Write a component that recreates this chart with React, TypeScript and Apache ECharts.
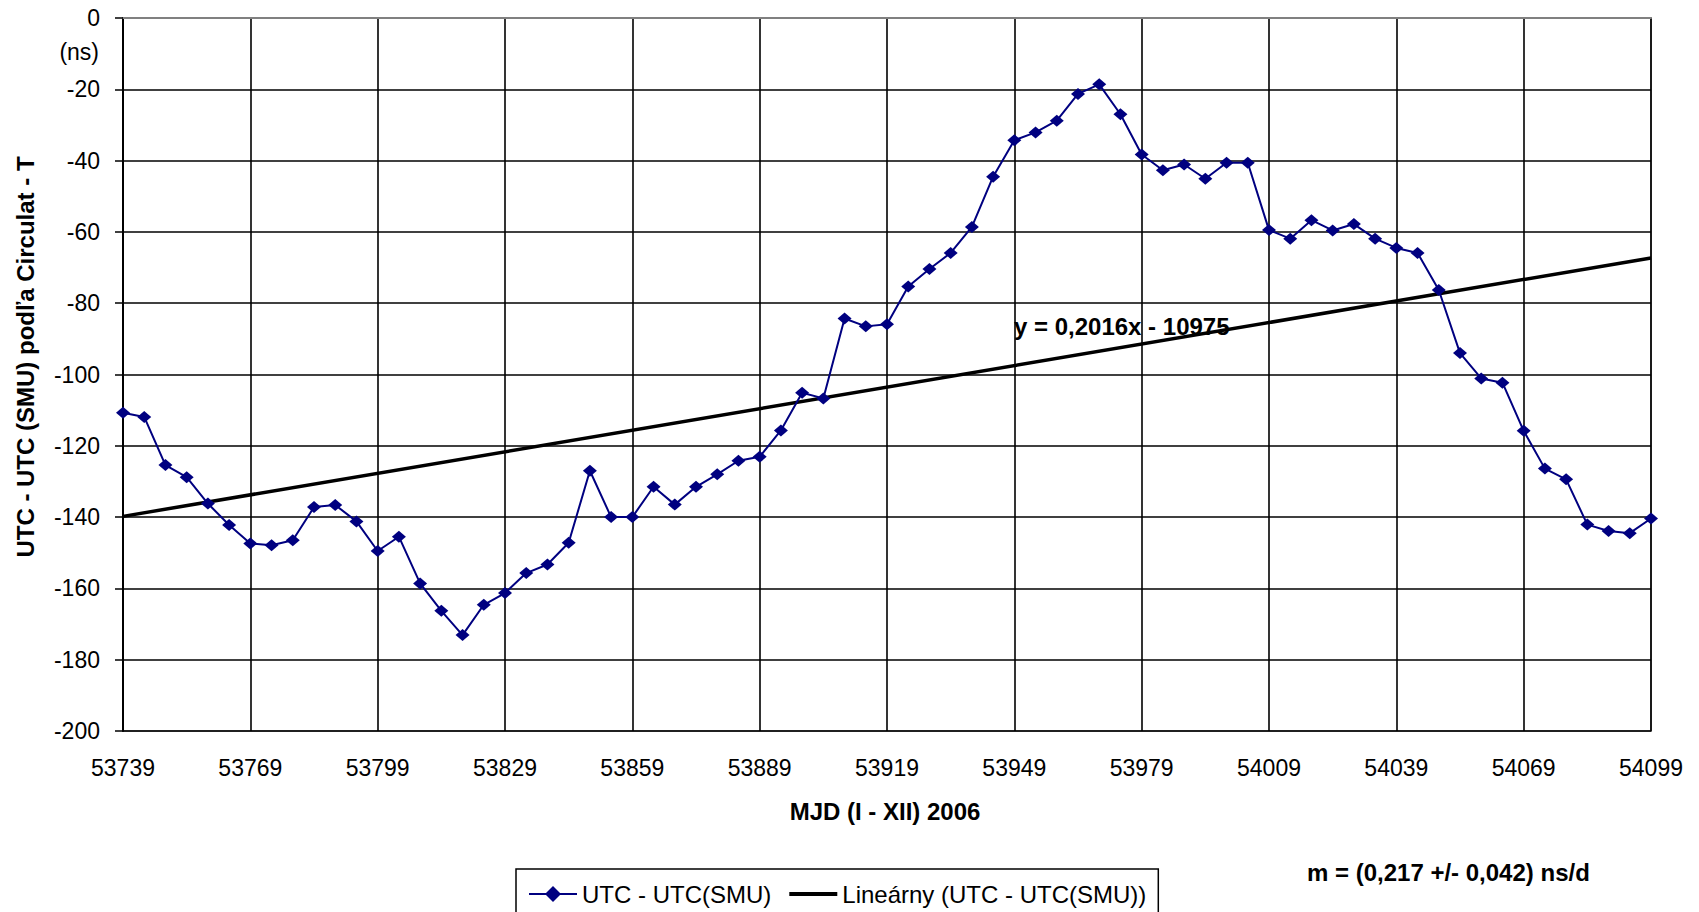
import React, { useEffect, useRef } from "react";
import * as echarts from "echarts";

const mjd = [
  53739, 53744, 53749, 53754, 53759, 53764, 53769, 53774, 53779, 53784,
  53789, 53794, 53799, 53804, 53809, 53814, 53819, 53824, 53829, 53834,
  53839, 53844, 53849, 53854, 53859, 53864, 53869, 53874, 53879, 53884,
  53889, 53894, 53899, 53904, 53909, 53914, 53919, 53924, 53929, 53934,
  53939, 53944, 53949, 53954, 53959, 53964, 53969, 53974, 53979, 53984,
  53989, 53994, 53999, 54004, 54009, 54014, 54019, 54024, 54029, 54034,
  54039, 54044, 54049, 54054, 54059, 54064, 54069, 54074, 54079, 54084,
  54089, 54094, 54099, 54104,
];

const utcDiff = [
  -110.7, -111.9, -125.4, -128.8, -136.2, -142.2, -147.4, -147.9, -146.5, -137.2,
  -136.6, -141.2, -149.5, -145.5, -158.6, -166.3, -173.1, -164.6, -161.3, -155.7,
  -153.3, -147.2, -127.0, -140.0, -140.0, -131.5, -136.5, -131.5, -128.0, -124.2,
  -123.1, -115.7, -105.1, -106.7, -84.3, -86.5, -85.9, -75.3, -70.4, -65.9,
  -58.6, -44.5, -34.3, -32.1, -28.8, -21.3, -18.6, -27.0, -38.3, -42.7,
  -41.1, -45.1, -40.6, -40.6, -59.5, -61.9, -56.7, -59.6, -57.8, -61.9,
  -64.5, -65.9, -76.3, -94.0, -101.1, -102.3, -115.8, -126.4, -129.4, -142.1,
  -143.9, -144.5, -140.4, -131.0,
];

const trendX = [53739, 54099];
const trendY = [-139.8, -67.3];

const seriesName = "UTC - UTC(SMU)";
const trendName = "Lineárny (UTC - UTC(SMU))";
const yTitle = "UTC - UTC (SMU) podľa Circulat - T";
const xTitle = "MJD (I - XII) 2006";
const unitLabel = "(ns)";
const equationLabel = "y = 0,2016x - 10975";
const slopeLabel = "m = (0,217 +/- 0,042) ns/d";

const FONT = "'Liberation Sans', Arial, sans-serif";

export default function App() {
  const ref = useRef<HTMLDivElement>(null);

  useEffect(() => {
    if (!ref.current) return;
    const chart = echarts.init(ref.current, undefined, { renderer: "svg" });
    const option: any = {
      animation: false,
      backgroundColor: "#ffffff",
      textStyle: { fontFamily: FONT },
      grid: {
        left: 123,
        top: 18,
        right: 48,
        bottom: 181,
        show: true,
        borderColor: "#808080",
        borderWidth: 2,
        backgroundColor: "#ffffff",
      },
      xAxis: {
        type: "value",
        min: 53739,
        max: 54099,
        interval: 30,
        axisLine: { show: true, lineStyle: { color: "#808080", width: 2 } },
        axisTick: { show: false },
        axisLabel: {
          color: "#000",
          fontSize: 23,
          fontFamily: FONT,
          margin: 25,
          formatter: (v: number) => String(v),
        },
        splitLine: { show: true, lineStyle: { color: "#000", width: 1.6 } },
      },
      yAxis: {
        type: "value",
        min: -200,
        max: 0,
        interval: 20,
        axisLine: { show: true, onZero: false, lineStyle: { color: "#000", width: 2 } },
        axisTick: { show: true, inside: false, length: 8, lineStyle: { color: "#000", width: 1.5 } },
        axisLabel: {
          color: "#000",
          fontSize: 23,
          fontFamily: FONT,
          margin: 23,
        },
        splitLine: { show: true, lineStyle: { color: "#000", width: 1.6 } },
      },
      legend: {
        left: 516,
        top: 869,
        orient: "horizontal",
        backgroundColor: "#ffffff",
        borderColor: "#000",
        borderWidth: 1.5,
        borderRadius: 0,
        padding: [13, 12, 30, 12],
        itemWidth: 48,
        itemHeight: 20,
        itemGap: 16,
        textStyle: { color: "#000", fontSize: 24, fontFamily: FONT },
        data: [
          { name: seriesName },
          { name: trendName, itemStyle: { opacity: 0 }, lineStyle: { width: 4, color: "#000" } },
        ],
      },
      series: [
        {
          name: seriesName,
          type: "line",
          data: mjd.map((x, i) => [x, utcDiff[i]]),
          symbol: "diamond",
          symbolSize: [14, 12],
          itemStyle: { color: "#000080" },
          lineStyle: { color: "#000080", width: 2 },
          clip: true,
          z: 3,
        },
        {
          name: trendName,
          type: "line",
          data: trendX.map((x, i) => [x, trendY[i]]),
          symbol: "none",
          itemStyle: { color: "#000" },
          lineStyle: { color: "#000", width: 3.5 },
          z: 2,
        },
      ],
      graphic: [
        {
          type: "text",
          x: 25,
          y: 357,
          rotation: Math.PI / 2,
          style: {
            text: yTitle,
            font: `bold 24px ${FONT}`,
            fill: "#000",
            align: "center",
            verticalAlign: "middle",
          },
        },
        {
          type: "text",
          x: 99,
          y: 52,
          style: {
            text: unitLabel,
            font: `23px ${FONT}`,
            fill: "#000",
            align: "right",
            verticalAlign: "middle",
          },
        },
        {
          type: "text",
          x: 885,
          y: 811,
          style: {
            text: xTitle,
            font: `bold 24px ${FONT}`,
            fill: "#000",
            align: "center",
            verticalAlign: "middle",
          },
        },
        {
          type: "text",
          x: 1014,
          y: 326,
          z: 10,
          style: {
            text: equationLabel,
            font: `bold 24px ${FONT}`,
            fill: "#000",
            align: "left",
            verticalAlign: "middle",
          },
        },
        {
          type: "text",
          x: 1307,
          y: 872,
          style: {
            text: slopeLabel,
            font: `bold 24px ${FONT}`,
            fill: "#000",
            align: "left",
            verticalAlign: "middle",
          },
        },
      ],
    };
    chart.setOption(option);
    return () => chart.dispose();
  }, []);

  return (
    <div
      ref={ref}
      style={{ position: "fixed", left: 0, top: 0, width: 1699, height: 912 }}
    />
  );
}
